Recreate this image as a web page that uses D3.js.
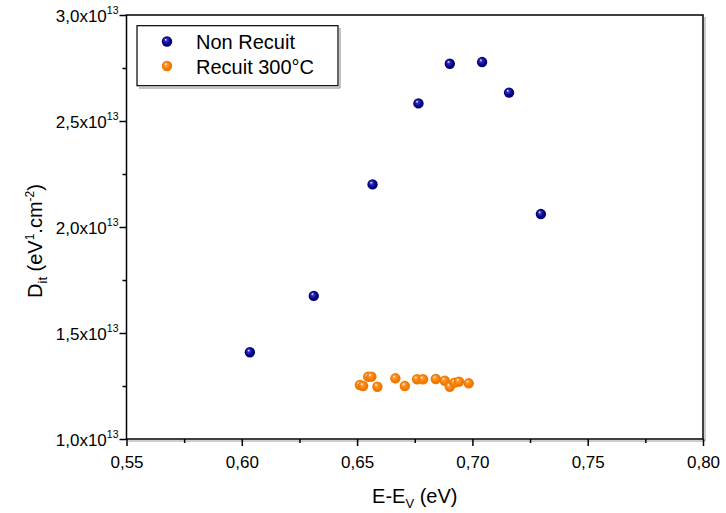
<!DOCTYPE html>
<html><head><meta charset="utf-8">
<script src="https://cdn.jsdelivr.net/npm/d3@7"></script>
<style>body{margin:0;background:#fff}svg{display:block}text{font-family:"Liberation Sans",Arial,sans-serif}</style>
</head><body>
<svg id="c" width="726" height="513"></svg>
<script>
const nonRecuitX = [0.6035,0.6312,0.6567,0.6766,0.6902,0.7042,0.7159,0.7297];
const nonRecuitY = [1.409e13,1.675e13,2.201e13,2.583e13,2.770e13,2.778e13,2.634e13,2.061e13];
const recuitX = [0.6512,0.6526,0.6548,0.6562,0.6588,0.6666,0.6707,0.6760,0.6786,0.6841,0.6880,0.6902,0.6923,0.6942,0.6984];
const recuitY = [1.2547e13,1.2500e13,1.2939e13,1.2939e13,1.2467e13,1.2863e13,1.2500e13,1.2816e13,1.2816e13,1.2830e13,1.2750e13,1.2467e13,1.2656e13,1.2703e13,1.2627e13];
const xTicks = [0.55,0.60,0.65,0.70,0.75,0.80];
const xMinor = [0.575,0.625,0.675,0.725,0.775];
const yTicks = [1.0e13,1.5e13,2.0e13,2.5e13,3.0e13];
const yMinor = [1.25e13,1.75e13,2.25e13,2.75e13];
const seriesNames = ["Non Recuit","Recuit 300°C"];

const svg = d3.select("#c");
const L=126.5, R=703, T=15, B=439;
const x = d3.scaleLinear().domain([0.55,0.80]).range([L,R]);
const y = d3.scaleLinear().domain([1.0e13,3.0e13]).range([B,T]);

const defs = svg.append("defs");
function grad(id, base, hi){
  const g = defs.append("radialGradient").attr("id",id).attr("cx","50%").attr("cy","50%").attr("r","55%").attr("fx","35%").attr("fy","30%");
  g.append("stop").attr("offset","0%").attr("stop-color","#ffffff");
  g.append("stop").attr("offset","25%").attr("stop-color",hi);
  g.append("stop").attr("offset","70%").attr("stop-color",base);
  g.append("stop").attr("offset","100%").attr("stop-color",base);
}
grad("gBlue","#00007a","#3030c0");
grad("gOrange","#f07800","#ff9a30");

// frame shadow
svg.append("path").attr("d",`M${R+2},${T+2}V${B+2}H${L+2}`).attr("stroke","#999").attr("stroke-width",1).attr("fill","none");
// frame
svg.append("rect").attr("x",L).attr("y",T).attr("width",R-L).attr("height",B-T).attr("fill","none").attr("stroke","#000").attr("stroke-width",1.5);

// x axis
const xAx = svg.append("g").attr("transform",`translate(0,${B})`)
  .call(d3.axisBottom(x).tickValues(xTicks).tickSize(7).tickPadding(10).tickFormat(d=>d3.format(".2f")(d).replace(".",",")));
xAx.select(".domain").remove();
xAx.selectAll("line").attr("stroke-width",1.5);
xAx.selectAll("text").attr("font-size",17).attr("fill","#000");
const xAm = svg.append("g").attr("transform",`translate(0,${B})`).call(d3.axisBottom(x).tickValues(xMinor).tickSize(4).tickFormat(""));
xAm.select(".domain").remove(); xAm.selectAll("line").attr("stroke-width",1.5);

// y axis
const yAx = svg.append("g").attr("transform",`translate(${L},0)`)
  .call(d3.axisLeft(y).tickValues(yTicks).tickSize(7).tickPadding(3).tickFormat(""));
yAx.select(".domain").remove();
yAx.selectAll("line").attr("stroke-width",1.5);
yAx.selectAll(".tick").each(function(d){
  const t = d3.select(this).append("text").attr("x",-8).attr("dy","0.4em").attr("text-anchor","end").attr("font-size",17).attr("fill","#000");
  t.append("tspan").text(d3.format(".1f")(d/1e13).replace(".",",")+"x10");
  t.append("tspan").attr("font-size",10.5).attr("dy","-0.75em").text("13");
});
const yAm = svg.append("g").attr("transform",`translate(${L},0)`).call(d3.axisLeft(y).tickValues(yMinor).tickSize(4).tickFormat(""));
yAm.select(".domain").remove(); yAm.selectAll("line").attr("stroke-width",1.5);

// axis titles
const xt = svg.append("text").attr("x",(L+R)/2).attr("y",503).attr("text-anchor","middle").attr("font-size",20);
xt.append("tspan").text("E-E");
xt.append("tspan").attr("font-size",13).attr("dy",5).text("V");
xt.append("tspan").attr("dy",-5).text(" (eV)");

const yt = svg.append("text").attr("transform",`translate(42,${(T+B)/2+14}) rotate(-90)`).attr("text-anchor","middle").attr("font-size",20);
yt.append("tspan").text("D");
yt.append("tspan").attr("font-size",13).attr("dy",5).text("it");
yt.append("tspan").attr("dy",-5).text(" (eV");
yt.append("tspan").attr("font-size",12).attr("dy",-8).text("1");
yt.append("tspan").attr("dy",8).text(".cm");
yt.append("tspan").attr("font-size",12).attr("dy",-8).text("-2");
yt.append("tspan").attr("dy",8).text(")");

// points
const blue = nonRecuitX.map((v,i)=>({x:v,y:nonRecuitY[i]}));
const orange = recuitX.map((v,i)=>({x:v,y:recuitY[i]}));
svg.append("g").selectAll("circle").data(orange).join("circle")
  .attr("cx",d=>x(d.x)).attr("cy",d=>y(d.y)).attr("r",5.2).attr("fill","url(#gOrange)");
svg.append("g").selectAll("circle").data(blue).join("circle")
  .attr("cx",d=>x(d.x)).attr("cy",d=>y(d.y)).attr("r",5.2).attr("fill","url(#gBlue)");

// legend
const lg = svg.append("g");
lg.append("path").attr("d","M139,88H340V28").attr("stroke","#888").attr("stroke-width",1).attr("fill","none");
lg.append("rect").attr("x",137).attr("y",25.7).attr("width",201).attr("height",60).attr("fill","#fff").attr("stroke","#000").attr("stroke-width",1.2);
const items = [{n:seriesNames[0],g:"url(#gBlue)",cy:41.5},{n:seriesNames[1],g:"url(#gOrange)",cy:66}];
items.forEach(it=>{
  lg.append("circle").attr("cx",167).attr("cy",it.cy).attr("r",5.2).attr("fill",it.g);
  lg.append("text").attr("x",196).attr("y",it.cy+7.5).attr("font-size",20).text(it.n);
});
</script>
</body></html>
